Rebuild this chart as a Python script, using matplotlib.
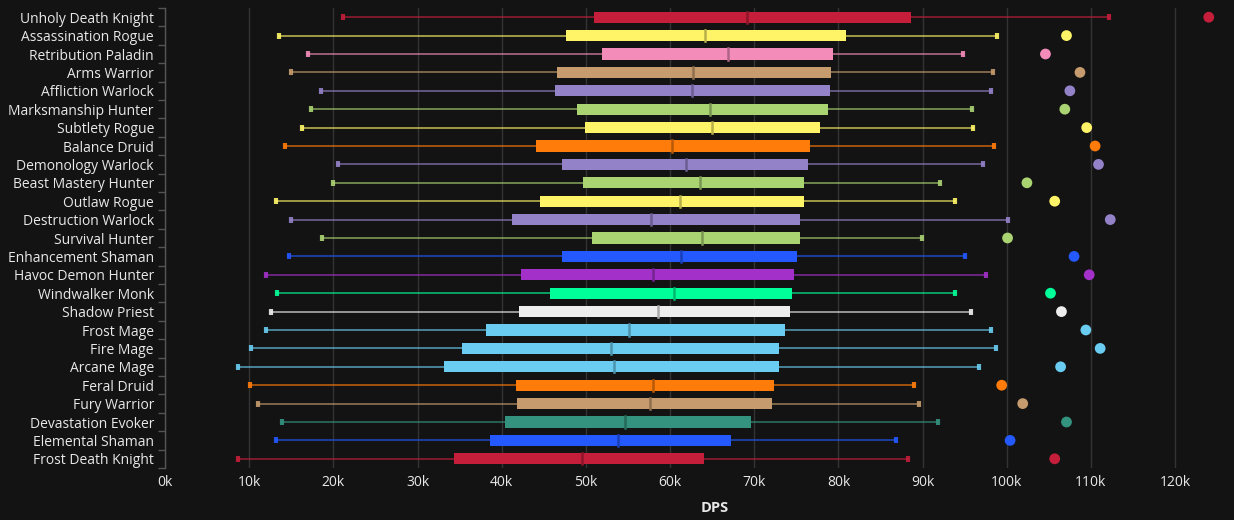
import numpy as np
import matplotlib
matplotlib.use("Agg")
import matplotlib.pyplot as plt
from matplotlib.colors import to_rgb

specs = ["Unholy Death Knight", "Assassination Rogue", "Retribution Paladin",
         "Arms Warrior", "Affliction Warlock", "Marksmanship Hunter",
         "Subtlety Rogue", "Balance Druid", "Demonology Warlock",
         "Beast Mastery Hunter", "Outlaw Rogue", "Destruction Warlock",
         "Survival Hunter", "Enhancement Shaman", "Havoc Demon Hunter",
         "Windwalker Monk", "Shadow Priest", "Frost Mage", "Fire Mage",
         "Arcane Mage", "Feral Druid", "Fury Warrior", "Devastation Evoker",
         "Elemental Shaman", "Frost Death Knight"]

# values in thousands of DPS
dps_min = [21.2, 13.5, 17.0, 15.0, 18.5, 17.3, 16.3, 14.2, 20.6, 19.9, 13.2, 15.0,
           18.7, 14.7, 12.0, 13.3, 12.6, 12.0, 10.2, 8.7, 10.1, 11.0, 13.9, 13.2, 8.7]
dps_q1 = [51.0, 47.6, 51.9, 46.6, 46.3, 49.0, 49.9, 44.1, 47.2, 49.7, 44.6, 41.2,
          50.7, 47.2, 42.3, 45.7, 42.1, 38.1, 35.3, 33.2, 41.7, 41.8, 40.4, 38.6, 34.3]
dps_med = [69.2, 64.1, 66.9, 62.7, 62.6, 64.8, 65.0, 60.2, 61.9, 63.6, 61.2, 57.7,
           63.8, 61.3, 58.0, 60.5, 58.6, 55.1, 53.0, 53.3, 58.0, 57.6, 54.7, 53.8, 49.6]
dps_q3 = [88.6, 80.9, 79.4, 79.1, 79.0, 78.8, 77.8, 76.6, 76.4, 75.9, 75.9, 75.4,
          75.4, 75.1, 74.7, 74.5, 74.3, 73.6, 72.9, 72.9, 72.3, 72.1, 69.6, 67.2, 64.0]
dps_max = [112.2, 98.8, 94.8, 98.4, 98.1, 95.9, 96.0, 98.5, 97.2, 92.1, 93.9, 100.2,
           89.9, 95.1, 97.5, 93.9, 95.7, 98.1, 98.7, 96.7, 89.0, 89.6, 91.8, 86.8, 88.3]
dps_top = [124.0, 107.1, 104.6, 108.7, 107.5, 106.9, 109.5, 110.5, 110.9, 102.4, 105.7, 112.3,
           100.1, 108.0, 109.8, 105.2, 106.5, 109.4, 111.1, 106.4, 99.4, 101.9, 107.1, 100.4, 105.7]

class_colors = {
    "Death Knight": "#C41E3A", "Rogue": "#FFF468", "Paladin": "#F48CBA",
    "Warrior": "#C69B6D", "Warlock": "#9482C9", "Hunter": "#AAD372",
    "Druid": "#FF7C0A", "Shaman": "#2359FE", "Demon Hunter": "#A330C9",
    "Monk": "#00FF98", "Priest": "#EEEEEE", "Mage": "#69CCF0", "Evoker": "#33937F",
}


def specColor(name):
    for cls in sorted(class_colors, key=len, reverse=True):
        if name.endswith(cls):
            return class_colors[cls]
    return "#FFFFFF"


bg = "#131313"
text_col = "#E8E8E8"
plt.rcParams["font.family"] = ["Open Sans", "DejaVu Sans"]

fig = plt.figure(figsize=(12.34, 5.2), dpi=100, facecolor=bg)
ax = fig.add_axes([165 / 1234, 52 / 520, 1 - 165 / 1234, 460 / 520])
ax.set_facecolor(bg)

y = np.arange(len(specs))
box_h = 0.6
for i, name in enumerate(specs):
    c = specColor(name)
    dark = tuple(v * 0.72 for v in to_rgb(c))
    # whiskers
    ax.plot([dps_min[i], dps_q1[i]], [y[i], y[i]], color=c, alpha=0.65, lw=1.3, zorder=2)
    ax.plot([dps_q3[i], dps_max[i]], [y[i], y[i]], color=c, alpha=0.65, lw=1.3, zorder=2)
    ax.plot([dps_min[i], dps_max[i]], [y[i], y[i]], ls="none", marker="|",
            ms=5, mew=3, color=c, alpha=0.9, zorder=3)
    # box
    ax.barh(y[i], dps_q3[i] - dps_q1[i], left=dps_q1[i], height=box_h,
            color=c, edgecolor="none", zorder=3)
    ax.plot([dps_med[i], dps_med[i]], [y[i] - box_h / 2, y[i] + box_h / 2],
            color=dark, lw=1.8, zorder=4)
    # top value
    ax.scatter(dps_top[i], y[i], s=60, color=c, edgecolors="none", zorder=5)

ax.set_ylim(len(specs) - 0.5, -0.5)
ax.set_xlim(0, 127)
ax.set_xticks(np.arange(0, 121, 10))
ax.set_xticklabels(["%dk" % v for v in range(0, 121, 10)])
ax.set_yticks(y)
ax.set_yticklabels(specs)
ax.set_yticks(np.arange(-0.5, len(specs), 1), minor=True)

ax.tick_params(axis="x", length=0, colors=text_col, labelsize=10, pad=5)
ax.tick_params(axis="y", which="major", length=0, colors=text_col, labelsize=10, pad=8)
ax.tick_params(axis="y", which="minor", length=5, color="#555555", width=1)

ax.grid(axis="x", color="#333333", lw=1, zorder=0)
ax.set_axisbelow(True)
for side in ["top", "right", "bottom"]:
    ax.spines[side].set_visible(False)
ax.spines["left"].set_color("#555555")
ax.spines["left"].set_linewidth(1)

ax.set_xlabel("DPS", color=text_col, fontsize=10.5, fontweight="bold")
ax.xaxis.set_label_coords(0.5145, -0.072)

fig.savefig("out.png", dpi=100, facecolor=bg)
